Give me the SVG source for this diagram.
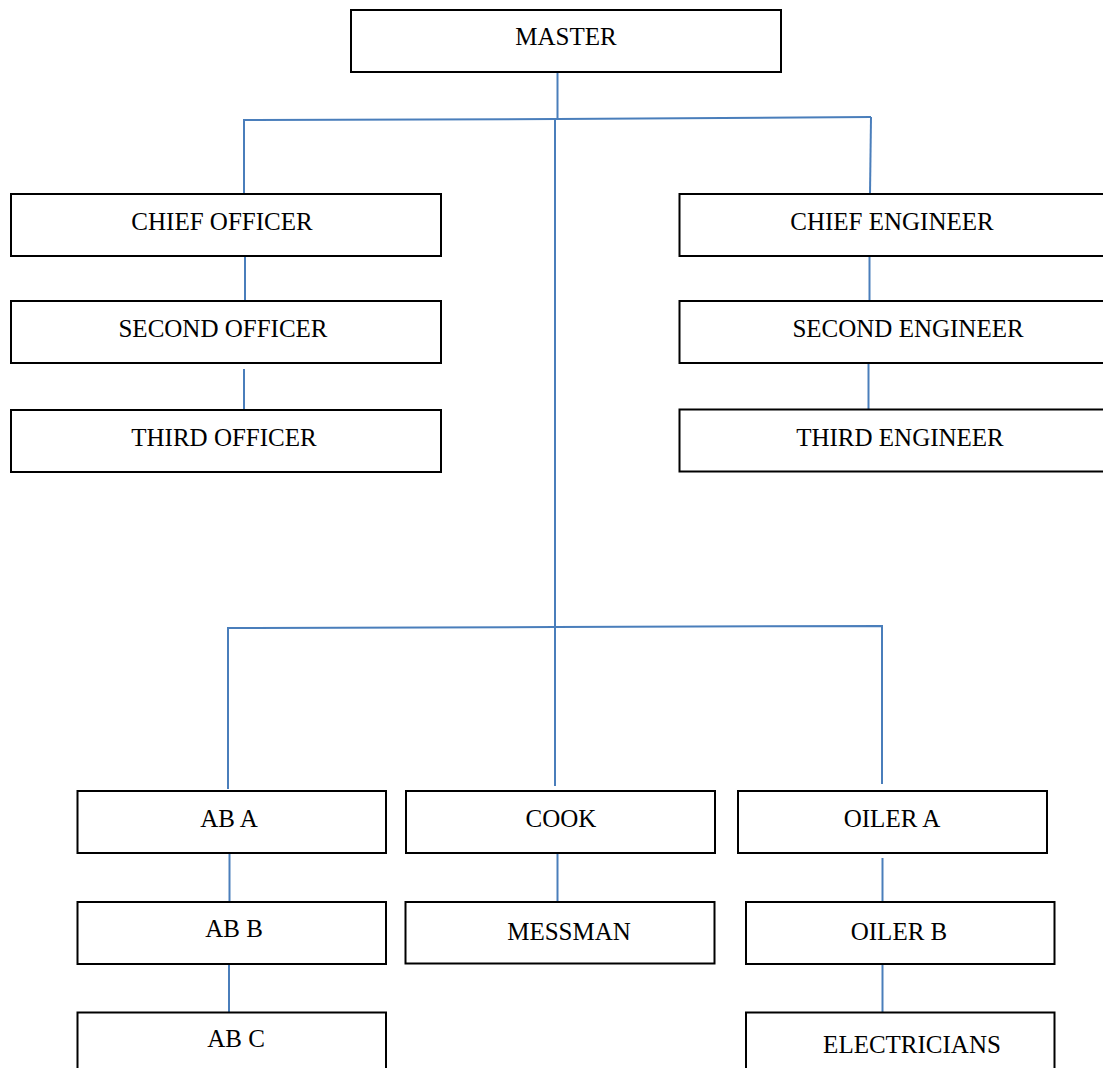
<svg xmlns="http://www.w3.org/2000/svg" width="1103" height="1068" viewBox="0 0 1103 1068">
<style>
.box{fill:#fff;stroke:#000;stroke-width:2}
.lbl{font-family:"Liberation Serif","Times New Roman",serif;font-size:25px;fill:#000;text-anchor:middle}
.con{fill:none;stroke:#4a7ebb;stroke-width:2}
</style>
<rect width="1103" height="1068" fill="#fff"/>
<g id="connectors">
<path class="con" d="M557.5,72 V119"/>
<path class="con" d="M244,194 V120 L557,119 L871,117 V117"/>
<path class="con" d="M871,117 L870,194"/>
<path class="con" d="M555,118 V786"/>
<path class="con" d="M245,256 V301"/>
<path class="con" d="M244,369 V413"/>
<path class="con" d="M869.5,256 V301"/>
<path class="con" d="M868.5,363 V409"/>
<path class="con" d="M228,789 V628 L555,627 L882,626 V784"/>
<path class="con" d="M229.5,853 V902"/>
<path class="con" d="M229,964 V1012"/>
<path class="con" d="M557.5,853 V904"/>
<path class="con" d="M882.5,858 V907"/>
<path class="con" d="M882.5,964 V1012"/>
</g>
<g id="master"><rect class="box" x="351" y="10" width="430" height="62"/><text class="lbl" x="566" y="45">MASTER</text></g>
<g id="chief-officer"><rect class="box" x="11" y="194" width="430" height="62"/><text class="lbl" x="222" y="230">CHIEF OFFICER</text></g>
<g id="second-officer"><rect class="box" x="11" y="301" width="430" height="62"/><text class="lbl" x="223" y="337">SECOND OFFICER</text></g>
<g id="third-officer"><rect class="box" x="11" y="410" width="430" height="62"/><text class="lbl" x="224" y="446">THIRD OFFICER</text></g>
<g id="chief-engineer"><rect class="box" x="679.5" y="194" width="430" height="62"/><text class="lbl" x="892" y="230">CHIEF ENGINEER</text></g>
<g id="second-engineer"><rect class="box" x="679.5" y="301" width="430" height="62"/><text class="lbl" x="908" y="337">SECOND ENGINEER</text></g>
<g id="third-engineer"><rect class="box" x="679.5" y="409.5" width="430" height="62"/><text class="lbl" x="900" y="446">THIRD ENGINEER</text></g>
<g id="ab-a"><rect class="box" x="77.5" y="791" width="308.5" height="62"/><text class="lbl" x="229" y="827">AB A</text></g>
<g id="ab-b"><rect class="box" x="77.5" y="902" width="308.5" height="62"/><text class="lbl" x="234" y="937">AB B</text></g>
<g id="ab-c"><rect class="box" x="77.5" y="1012.5" width="308.5" height="70"/><text class="lbl" x="236" y="1047">AB C</text></g>
<g id="cook"><rect class="box" x="406" y="791" width="309" height="62"/><text class="lbl" x="561" y="827">COOK</text></g>
<g id="messman"><rect class="box" x="405.5" y="902" width="309" height="61.5"/><text class="lbl" x="569" y="940">MESSMAN</text></g>
<g id="oiler-a"><rect class="box" x="738" y="791" width="309" height="62"/><text class="lbl" x="892" y="827">OILER A</text></g>
<g id="oiler-b"><rect class="box" x="746" y="902" width="308.5" height="62"/><text class="lbl" x="899" y="940">OILER B</text></g>
<g id="electricians"><rect class="box" x="746" y="1012.5" width="308.5" height="70"/><text class="lbl" x="912" y="1053">ELECTRICIANS</text></g>
</svg>
